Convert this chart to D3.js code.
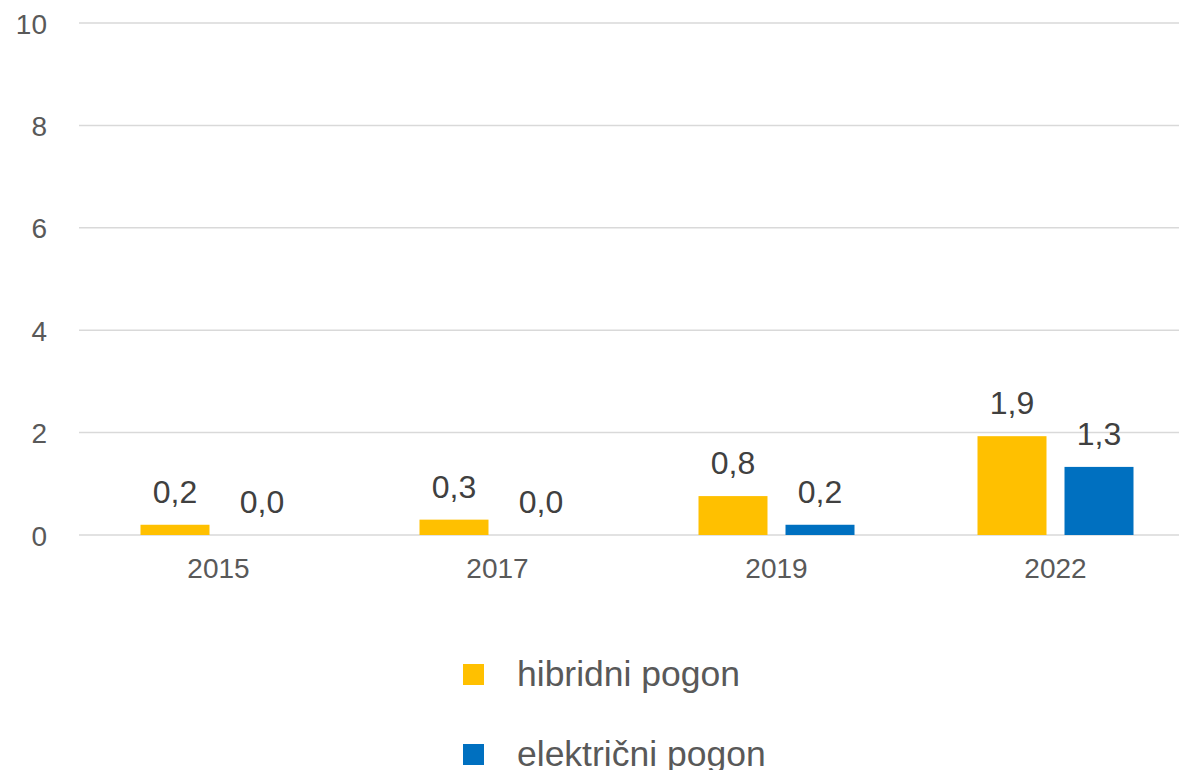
<!DOCTYPE html>
<html lang="hr">
<head>
<meta charset="UTF-8">
<title>Hibridni i električni pogon</title>
<script src="https://d3js.org/d3.v7.min.js"></script>
<style>
  body { margin: 0; background: #fff; }
  text { font-family: "Liberation Sans", Arial, sans-serif; }
</style>
</head>
<body>
<div id="chart"></div>
<script>
// chart data
var years = ["2015", "2017", "2019", "2022"];
var hybrid = [0.2, 0.3, 0.76, 1.93];
var electric = [0, 0, 0.2, 1.33];
var seriesNames = ["hibridni pogon", "električni pogon"];
var seriesColors = ["#FFC000", "#0070C0"];
var yTicks = [0, 2, 4, 6, 8, 10];

var width = 1179, height = 770;

var svg = d3.select("#chart").append("svg")
    .attr("width", width)
    .attr("height", height);

// scales
var x = d3.scaleBand()
    .domain(years)
    .range([79, 1195]);

var inner = d3.scaleBand()
    .domain([0, 1])
    .range([61.5, x.bandwidth() - 61.5])
    .paddingInner(0.207);

var y = d3.scaleLinear()
    .domain([0, 10])
    .range([535, 23]);

// grid lines
svg.append("g")
    .selectAll("line")
    .data(yTicks)
    .enter()
    .append("line")
    .attr("x1", 79)
    .attr("x2", width)
    .attr("y1", function(d) { return y(d); })
    .attr("y2", function(d) { return y(d); })
    .attr("stroke", "#d9d9d9")
    .attr("stroke-width", 1.5);

// y axis labels
var yAxis = d3.axisLeft(y).tickValues(yTicks).tickSize(0).tickPadding(0);
var yg = svg.append("g")
    .attr("transform", "translate(47,0)")
    .call(yAxis);
yg.select(".domain").remove();
yg.selectAll("text")
    .attr("fill", "#595959")
    .style("font-size", "28px")
    .attr("dy", "0.36em");

// x axis labels
var xAxis = d3.axisBottom(x).tickSize(0).tickPadding(0);
var xg = svg.append("g")
    .attr("transform", "translate(0,553)")
    .call(xAxis);
xg.select(".domain").remove();
xg.selectAll("text")
    .attr("fill", "#595959")
    .style("font-size", "28px")
    .attr("dy", "0.88em");

// bars
var rows = years.map(function(yr, i) {
    return {year: yr, values: [hybrid[i], electric[i]]};
});

var fmt = function(v) { return d3.format(".1f")(v).replace(".", ","); };

var groups = svg.selectAll(".year")
    .data(rows)
    .enter()
    .append("g")
    .attr("transform", function(d) { return "translate(" + x(d.year) + ",0)"; });

groups.selectAll("rect")
    .data(function(d) { return d.values; })
    .enter()
    .append("rect")
    .attr("x", function(d, i) { return inner(i); })
    .attr("width", inner.bandwidth())
    .attr("y", function(d) { return y(d); })
    .attr("height", function(d) { return y(0) - y(d); })
    .attr("fill", function(d, i) { return seriesColors[i]; });

groups.selectAll("text.lbl")
    .data(function(d) { return d.values; })
    .enter()
    .append("text")
    .attr("class", "lbl")
    .attr("x", function(d, i) { return inner(i) + inner.bandwidth() / 2; })
    .attr("y", function(d) { return y(d) - 22; })
    .attr("text-anchor", "middle")
    .attr("fill", "#404040")
    .style("font-size", "32px")
    .text(function(d) { return fmt(d); });

// legend
var legend = svg.selectAll(".legend")
    .data(seriesNames)
    .enter()
    .append("g")
    .attr("transform", function(d, i) { return "translate(463," + (664 + i * 80) + ")"; });

legend.append("rect")
    .attr("width", 21)
    .attr("height", 21)
    .attr("fill", function(d, i) { return seriesColors[i]; });

legend.append("text")
    .attr("x", 54)
    .attr("y", 22)
    .attr("fill", "#595959")
    .style("font-size", "35.5px")
    .text(function(d) { return d; });
</script>
</body>
</html>
